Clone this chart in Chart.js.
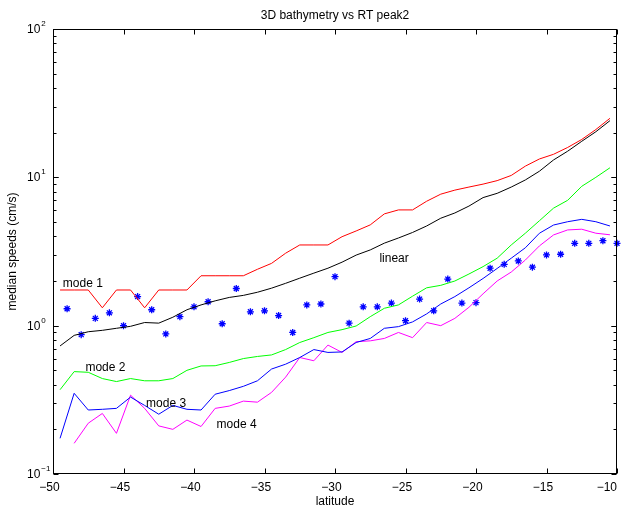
<!DOCTYPE html>
<html>
<head>
<meta charset="utf-8">
<script src="https://cdn.jsdelivr.net/npm/chart.js@4.4.1/dist/chart.umd.min.js"></script>
<style>
	html, body { margin: 0; padding: 0; background: #fff; }
	#wrap { width: 624px; height: 510px; }
</style>
</head>
<body>
<div id="wrap"><canvas id="chart" width="624" height="510"></canvas></div>
<script>
// --- Data ---
const LATS = [-49.5, -48.5, -47.5, -46.5, -45.5, -44.5, -43.5, -42.5, -41.5, -40.5,
	-39.5, -38.5, -37.5, -36.5, -35.5, -34.5, -33.5, -32.5, -31.5, -30.5,
	-29.5, -28.5, -27.5, -26.5, -25.5, -24.5, -23.5, -22.5, -21.5, -20.5,
	-19.5, -18.5, -17.5, -16.5, -15.5, -14.5, -13.5, -12.5, -11.5, -10.5];

const MODE1 = [1.74, 1.74, 1.74, 1.32, 1.74, 1.74, 1.32, 1.74, 1.74, 1.74,
	2.17, 2.17, 2.17, 2.17, 2.4, 2.63, 3.08, 3.5, 3.5, 3.5,
	3.98, 4.35, 4.78, 5.67, 6.03, 6.03, 6.9, 7.7, 8.2, 8.6,
	9.0, 9.5, 10.3, 11.9, 13.3, 14.3, 15.9, 18.0, 21.0, 25.0];

const LINEAR = [0.73, 0.86, 0.91, 0.93, 0.96, 0.99, 1.05, 1.04, 1.14, 1.28,
	1.38, 1.47, 1.55, 1.6, 1.68, 1.79, 1.93, 2.09, 2.26, 2.44,
	2.68, 2.99, 3.24, 3.6, 3.9, 4.25, 4.7, 5.3, 5.75, 6.4,
	7.3, 7.8, 8.6, 9.6, 11.0, 13.1, 15.0, 17.5, 20.3, 24.1];

const MODE2 = [0.37, 0.49, 0.485, 0.44, 0.42, 0.44, 0.425, 0.425, 0.44, 0.5,
	0.535, 0.537, 0.565, 0.6, 0.62, 0.635, 0.69, 0.77, 0.83, 0.9,
	0.94, 0.995, 1.15, 1.31, 1.38, 1.58, 1.8, 1.87, 2.0, 2.23,
	2.5, 2.85, 3.5, 4.2, 5.1, 6.2, 7.0, 8.7, 10.0, 11.6];

const MODE3 = [0.174, 0.35, 0.27, 0.273, 0.277, 0.33, 0.29, 0.253, 0.29, 0.273,
	0.27, 0.345, 0.365, 0.39, 0.425, 0.51, 0.55, 0.61, 0.69, 0.66,
	0.665, 0.77, 0.82, 0.96, 0.985, 1.06, 1.2, 1.4, 1.57, 1.8,
	2.08, 2.43, 2.85, 3.35, 4.2, 4.77, 5.02, 5.21, 5.02, 4.7];

const MODE4 = [null, 0.161, 0.22, 0.256, 0.188, 0.34, 0.277, 0.211, 0.2, 0.231,
	0.209, 0.277, 0.287, 0.31, 0.305, 0.355, 0.45, 0.61, 0.58, 0.74,
	0.66, 0.78, 0.79, 0.82, 0.9, 0.83, 1.05, 1.0, 1.12, 1.33,
	1.64, 2.0, 2.3, 2.77, 3.45, 4.09, 4.42, 4.47, 4.2, 4.1];

const STAR_LATS = [-49, -48, -47, -46, -45, -44, -43, -42, -41, -40,
	-39, -38, -37, -36, -35, -34, -33, -32, -31, -30,
	-29, -28, -27, -26, -25, -24, -23, -22, -21, -20,
	-19, -18, -17, -16, -15, -14, -13, -12, -11, -10];
const STAR_VALUES = [1.3, 0.87, 1.12, 1.22, 1.0, 1.57, 1.28, 0.88, 1.15, 1.34,
	1.45, 1.03, 1.78, 1.24, 1.26, 1.17, 0.9, 1.38, 1.4, 2.14,
	1.04, 1.34, 1.34, 1.42, 1.08, 1.51, 1.26, 2.06, 1.42, 1.43,
	2.44, 2.59, 2.73, 2.48, 3.0, 3.03, 3.59, 3.59, 3.74, 3.59];

const X_TICKS = [-50, -45, -40, -35, -30, -25, -20, -15, -10];
const Y_TICKS = [0.1, 1, 10, 100];
const Y_TICK_EXP = ["\u22121", "0", "1", "2"];

// text labels placed in data coordinates: [text, lat, value]
const CURVE_LABELS = [
	["mode 1", -49.3, 1.83],
	["mode 2", -47.7, 0.497],
	["mode 3", -43.4, 0.284],
	["mode 4", -38.4, 0.203],
	["linear", -26.85, 2.68],
];

const TITLE = "3D bathymetry vs RT peak2";
const X_TITLE = "latitude";
const Y_TITLE = "median speeds (cm/s)";

const FONT = "12px 'Liberation Sans', Arial, Helvetica, sans-serif";
const FONT_SMALL = "8px 'Liberation Sans', Arial, Helvetica, sans-serif";

function toPoints(xs, ys) {
	return xs.map((x, i) => ({ x: x, y: ys[i] }));
}

function lineSet(label, values, color) {
	return {
		label: label,
		data: toPoints(LATS, values),
		borderColor: color,
		backgroundColor: color,
		borderWidth: 1,
		pointRadius: 0,
		tension: 0,
		fill: false,
	};
}

// --- MATLAB-like frame: box, inward ticks, labels, titles ---
const matlabAxes = {
	id: "matlabAxes",
	afterDatasetsDraw(chart) {
		const ctx = chart.ctx;
		const a = chart.chartArea;
		const xs = chart.scales.x;
		const ys = chart.scales.y;
		const L = Math.round(a.left) + 0.5;
		const R = Math.round(a.right) - 0.5;
		const T = Math.round(a.top) + 0.5;
		const B = Math.round(a.bottom) - 0.5;

		ctx.save();
		ctx.strokeStyle = "#000";
		ctx.lineWidth = 1;
		ctx.strokeRect(L, T, R - L, B - T);

		ctx.beginPath();
		X_TICKS.forEach((v) => {
			const px = Math.round(xs.getPixelForValue(v)) + 0.5;
			ctx.moveTo(px, B); ctx.lineTo(px, B - 5);
			ctx.moveTo(px, T); ctx.lineTo(px, T + 5);
		});
		for (let d = 0.1; d < 100; d *= 10) {
			for (let m = 1; m <= 10; m++) {
				const v = m * d;
				const len = (m === 1 || m === 10) ? 5 : 3;
				const py = Math.round(ys.getPixelForValue(v)) + 0.5;
				ctx.moveTo(L, py); ctx.lineTo(L + len, py);
				ctx.moveTo(R, py); ctx.lineTo(R - len, py);
			}
		}
		ctx.stroke();

		ctx.fillStyle = "#000";
		ctx.font = FONT;
		ctx.textBaseline = "alphabetic";

		// x tick labels: digits centred on the tick, minus hangs left
		X_TICKS.forEach((v) => {
			const px = xs.getPixelForValue(v);
			const digits = String(Math.abs(v));
			const minus = v < 0 ? "\u2212" : "";
			const dw = ctx.measureText(digits).width;
			const mw = ctx.measureText(minus).width;
			let left = px - dw / 2 - mw;
			if (left + mw + dw > a.right) left = a.right - mw - dw;
			ctx.textAlign = "left";
			ctx.fillText(minus + digits, left, 491);
		});

		// y tick labels: 10 with superscript exponent
		Y_TICKS.forEach((v, i) => {
			const py = ys.getPixelForValue(v);
			ctx.font = FONT;
			ctx.textAlign = "left";
			ctx.fillText("10", 27, py + 4);
			const w = ctx.measureText("10").width;
			ctx.font = FONT_SMALL;
			ctx.fillText(Y_TICK_EXP[i], 27 + w + 1, py - 3);
		});

		ctx.font = FONT;
		ctx.textAlign = "center";
		ctx.fillText(TITLE, (a.left + a.right) / 2, 19);
		ctx.fillText(X_TITLE, (a.left + a.right) / 2, 505);

		ctx.save();
		ctx.translate(16, (a.top + a.bottom) / 2);
		ctx.rotate(-Math.PI / 2);
		ctx.textAlign = "center";
		ctx.fillText(Y_TITLE, 0, 0);
		ctx.restore();

		ctx.textAlign = "left";
		CURVE_LABELS.forEach(([txt, lat, val]) => {
			ctx.fillText(txt, xs.getPixelForValue(lat), ys.getPixelForValue(val));
		});
		ctx.restore();
	},
};

const ctx = document.getElementById("chart").getContext("2d");
new Chart(ctx, {
	type: "line",
	data: {
		datasets: [
			lineSet("mode 1", MODE1, "rgb(255, 0, 0)"),
			lineSet("linear", LINEAR, "rgb(0, 0, 0)"),
			lineSet("mode 2", MODE2, "rgb(0, 255, 0)"),
			lineSet("mode 3", MODE3, "rgb(0, 0, 255)"),
			lineSet("mode 4", MODE4, "rgb(255, 0, 255)"),
			{
				label: "observed",
				data: toPoints(STAR_LATS, STAR_VALUES),
				showLine: false,
				pointStyle: "star",
				pointRadius: 3.5,
				pointBorderWidth: 1.3,
				borderColor: "rgb(0, 0, 255)",
				backgroundColor: "rgb(0, 0, 255)",
				clip: false,
			},
		],
	},
	options: {
		responsive: false,
		animation: false,
		events: [],
		layout: { padding: { left: 53, right: 7, top: 29, bottom: 36 } },
		scales: {
			x: { type: "linear", min: -50, max: -10, display: false },
			y: { type: "logarithmic", min: 0.1, max: 100, display: false },
		},
		plugins: {
			legend: { display: false },
			tooltip: { enabled: false },
		},
	},
	plugins: [matlabAxes],
});
</script>
</body>
</html>
